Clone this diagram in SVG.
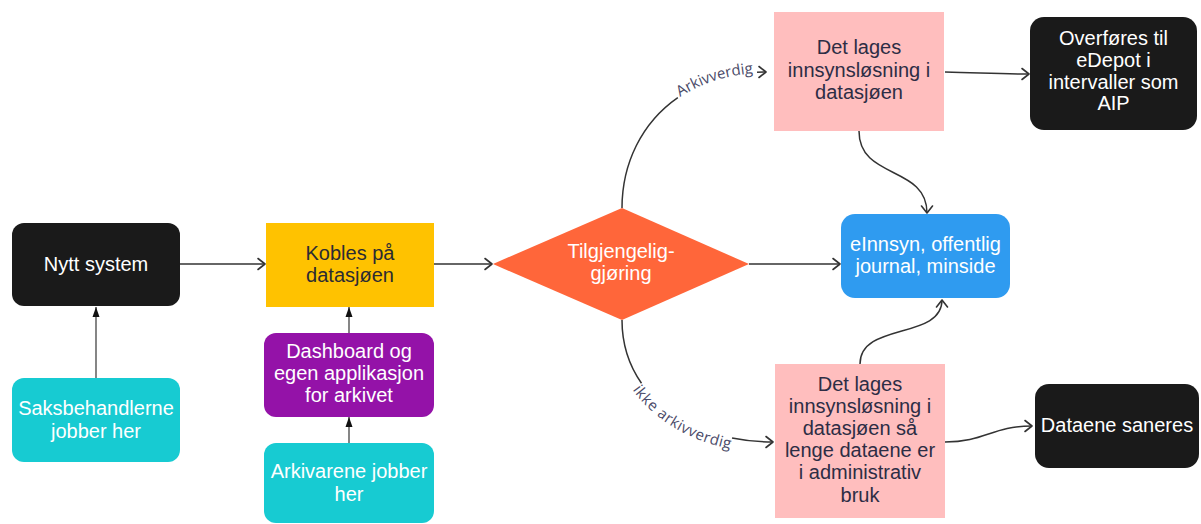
<svg xmlns="http://www.w3.org/2000/svg" xmlns:xlink="http://www.w3.org/1999/xlink" width="1201" height="524" viewBox="0 0 1201 524">
<style>
.t{font-family:"Liberation Sans",Arial,sans-serif;font-size:20px;text-anchor:middle}
.w{fill:#ffffff}
.d{fill:#2b2b33}
.p{fill:#2d2d45}
.c{fill:none;stroke:#333333;stroke-width:1.5}
.v{fill:none;stroke:#444444;stroke-width:1.3}
.lbl{font-family:"Open Sans","Noto Sans",sans-serif;font-size:15px;fill:#4a4a68}
</style>
<defs>
<marker id="chev" markerUnits="userSpaceOnUse" markerWidth="12" markerHeight="14" refX="9" refY="6" orient="auto" overflow="visible">
<path d="M2,0.5 L9,6 L2,11.5" fill="none" stroke="#333333" stroke-width="1.6" stroke-linecap="round" stroke-linejoin="round"/>
</marker>
<marker id="tri" markerUnits="userSpaceOnUse" markerWidth="12" markerHeight="8" refX="10" refY="3.5" orient="auto" overflow="visible">
<path d="M0,0 L10,3.5 L0,7 Z" fill="#111111"/>
</marker>
</defs>

<g id="connectors">
<path class="c" d="M180,264 L265,264" marker-end="url(#chev)"/>
<path class="c" d="M434,264 L492,264" marker-end="url(#chev)"/>
<path class="c" d="M749,264 L840,264" marker-end="url(#chev)"/>
<path class="v" d="M96,378 L96,307" marker-end="url(#tri)"/>
<path class="v" d="M349,333 L349,307" marker-end="url(#tri)"/>
<path class="v" d="M349,443 L349,417" marker-end="url(#tri)"/>
<path id="pTop" class="c" pathLength="100" stroke-dasharray="58 38 4" d="M622,208 C622,135 675,72 766,72" marker-end="url(#chev)"/>
<path id="pBot" class="c" pathLength="100" stroke-dasharray="31 50 19" d="M622,320 C622,395 690,442 773,442" marker-end="url(#chev)"/>
<text class="lbl" dy="1"><textPath href="#pTop" xlink:href="#pTop" startOffset="59%">Arkivverdig</textPath></text>
<text class="lbl" dy="11"><textPath href="#pBot" xlink:href="#pBot" startOffset="31%">ikke arkivverdig</textPath></text>
<path class="c" d="M945,72 C985,73 1000,74 1029,74" marker-end="url(#chev)"/>
<path class="c" d="M945,442 C985,442 992,426 1032,426" marker-end="url(#chev)"/>
<path class="c" d="M859,131 C859,180 927,165 927,213" marker-end="url(#chev)"/>
<path class="c" d="M860,364 C860,322 942,340 942,300" marker-end="url(#chev)"/>
</g>

<g id="nytt-system">
<rect x="12" y="223" width="168" height="83" rx="12" fill="#1a1a1a"/>
<text class="t w" x="96" y="271">Nytt system</text>
</g>
<g id="saksbehandlerne">
<rect x="12" y="378" width="168" height="84" rx="12" fill="#17cbd2"/>
<text class="t w" x="96" y="415">Saksbehandlerne</text>
<text class="t w" x="96" y="438">jobber her</text>
</g>
<g id="kobles">
<rect x="266" y="223" width="168" height="84" fill="#ffc200"/>
<text class="t d" x="350" y="260">Kobles på</text>
<text class="t d" x="350" y="282">datasjøen</text>
</g>
<g id="dashboard">
<rect x="264" y="333" width="170" height="84" rx="12" fill="#9412a8"/>
<text class="t w" x="349" y="358">Dashboard og</text>
<text class="t w" x="349" y="380">egen applikasjon</text>
<text class="t w" x="349" y="402">for arkivet</text>
</g>
<g id="arkivarene">
<rect x="264" y="443" width="170" height="80" rx="12" fill="#17cbd2"/>
<text class="t w" x="349" y="478">Arkivarene jobber</text>
<text class="t w" x="349" y="501">her</text>
</g>
<g id="tilgjengeliggjoring">
<polygon points="493,264 622,208 749,264 622,320" fill="#ff663a"/>
<text class="t w" x="621" y="258">Tilgjengelig-</text>
<text class="t w" x="621" y="280">gjøring</text>
</g>
<g id="innsyn-arkivverdig">
<rect x="774" y="12" width="170" height="119" fill="#ffbebe"/>
<text class="t p" x="859" y="54">Det lages</text>
<text class="t p" x="859" y="77">innsynsløsning i</text>
<text class="t p" x="859" y="99">datasjøen</text>
</g>
<g id="innsyn-ikke-arkivverdig">
<rect x="775" y="364" width="170" height="154" fill="#ffbebe"/>
<text class="t p" x="860" y="391">Det lages</text>
<text class="t p" x="860" y="413">innsynsløsning i</text>
<text class="t p" x="860" y="435">datasjøen så</text>
<text class="t p" x="860" y="457">lenge dataene er</text>
<text class="t p" x="860" y="479">i administrativ</text>
<text class="t p" x="860" y="502">bruk</text>
</g>
<g id="einnsyn">
<rect x="841" y="214" width="169" height="84" rx="14" fill="#2f9bf0"/>
<text class="t w" x="925.5" y="251">eInnsyn, offentlig</text>
<text class="t w" x="925.5" y="273">journal, minside</text>
</g>
<g id="edepot">
<rect x="1030" y="17" width="167" height="113" rx="14" fill="#1a1a1a"/>
<text class="t w" x="1113.5" y="45">Overføres til</text>
<text class="t w" x="1113.5" y="67">eDepot i</text>
<text class="t w" x="1113.5" y="89">intervaller som</text>
<text class="t w" x="1113.5" y="110">AIP</text>
</g>
<g id="saneres">
<rect x="1035" y="384" width="164" height="84" rx="14" fill="#1a1a1a"/>
<text class="t w" x="1117" y="432">Dataene saneres</text>
</g>
</svg>
